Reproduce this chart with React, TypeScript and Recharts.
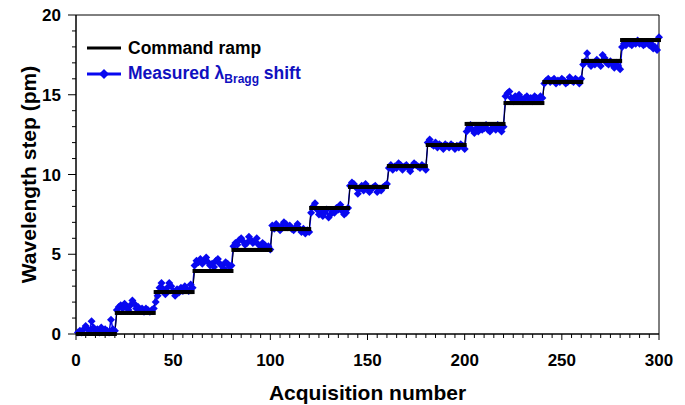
import { ComposedChart, Line, XAxis, YAxis, ReferenceArea } from "recharts";

// command ramp: one level per block of 20 acquisitions
const STEP_LEVELS = [0, 1.32, 2.63, 3.95, 5.27, 6.58, 7.9, 9.22, 10.53, 11.85, 13.17, 14.48, 15.8, 17.12, 18.43];
const BLOCK = 20;

// measured Bragg shift, acquisitions 1..300
const MEASURED = [
  0.1, 0.2, 0.1, 0.3, 0.5, 0.3, 0.2, 0.8, 0.4, 0.2, 0.3, 0.1, 0.4, 0.2, 0.3, 0.2, 0.1, 0.9, 0.3, 0.2,
  1.5, 1.7, 1.8, 1.6, 1.9, 1.7, 1.5, 1.8, 2.1, 1.9, 1.6, 1.7, 1.5, 1.6, 1.4, 1.6, 1.5, 1.4, 1.5, 1.6,
  2.0, 2.4, 2.9, 3.2, 2.8, 2.5, 2.9, 3.2, 3.0, 2.7, 2.4, 2.8, 2.6, 2.9, 2.7, 3.0, 2.8, 2.7, 3.1, 2.9,
  4.3, 4.6, 4.5, 4.7, 4.4, 4.6, 4.8, 4.5, 4.3, 4.4, 4.2, 4.6, 4.7, 4.4, 4.3, 4.1, 4.5, 4.4, 4.2, 4.3,
  5.5, 5.7, 5.6, 5.9, 6.0, 5.8, 5.6, 5.7, 6.1, 5.9, 5.7, 5.8, 6.0, 5.6, 5.5, 5.7, 5.6, 5.4, 5.5, 5.3,
  6.8, 6.6, 6.9, 6.7, 6.5, 6.8, 7.0, 6.9, 6.7, 6.8, 6.6, 6.5, 6.7, 6.9, 6.6, 6.4, 6.6, 6.3, 6.5, 6.4,
  7.6, 8.0, 8.2, 7.8, 7.5, 7.7, 7.4, 7.6, 7.8, 7.3, 7.5, 7.7, 7.6, 7.9, 7.8, 8.1, 7.7, 7.5, 7.6, 7.9,
  9.3, 9.5, 9.4, 9.2, 8.8, 9.1, 9.3, 9.0, 9.4, 9.2, 8.9, 9.1, 9.2, 9.3, 8.9, 9.1, 9.0, 9.2, 9.3, 9.4,
  10.4, 10.6, 10.3, 10.5, 10.4, 10.7, 10.6, 10.3, 10.5, 10.6, 10.4, 10.2, 10.5, 10.7, 10.6, 10.5, 10.4, 10.6, 10.5, 10.3,
  12.0, 12.2, 11.9, 11.8, 12.0, 11.7, 11.9, 11.8, 11.6, 11.9, 11.8, 11.7, 11.9, 11.8, 11.6, 11.8, 11.7, 11.9, 11.8, 11.6,
  12.7, 12.9, 13.1, 12.8, 12.6, 12.9, 12.7, 13.0, 12.8, 12.9, 13.1, 12.8, 12.7, 12.9, 13.0, 12.8, 13.1, 12.9, 12.7, 13.0,
  14.9, 15.1, 15.2, 14.8, 14.6, 14.9, 14.7, 15.0, 14.8, 14.6, 14.8, 14.9, 14.7, 14.8, 14.6, 14.9, 14.8, 14.7, 14.9, 14.8,
  15.7, 15.9, 16.0, 15.8, 15.9, 16.0, 15.7, 15.9, 15.8, 16.0, 15.9, 15.7, 15.8, 16.1, 15.9, 15.8, 16.0, 15.9, 15.7, 16.0,
  16.9, 17.1, 17.6, 17.0, 16.8, 17.0, 16.9, 17.2, 17.0, 16.8, 17.5, 17.3, 17.0, 16.9, 17.1, 16.9, 16.7, 17.0, 16.8, 16.6,
  18.0, 18.2, 18.1, 18.3, 18.2, 18.1, 18.3, 18.2, 18.4, 18.2, 18.3, 18.1, 18.2, 18.3, 18.1, 18.2, 17.9, 18.0, 17.8, 18.6,
];

const X_MAJOR = [0, 50, 100, 150, 200, 250, 300];
const Y_MAJOR = [0, 5, 10, 15, 20];
const X_TICKS = Array.from({ length: 61 }, (_, i) => i * 5);
const Y_TICKS = Array.from({ length: 21 }, (_, i) => i);

const data = MEASURED.map((m, i) => ({
  n: i + 1,
  measured: m,
  command: STEP_LEVELS[Math.floor(i / BLOCK)],
}));

const FONT = "'Liberation Sans', Arial, sans-serif";
const BLUE = "#0808f0";
const TEXT_BLUE = "#1010c0";

function YTick(props: any) {
  const { x, y, payload } = props;
  const major = Y_MAJOR.includes(payload.value);
  return (
    <g>
      <line x1={x - (major ? 8 : 4)} x2={x} y1={y} y2={y} stroke="#000" />
      {major && (
        <text x={x - 15} y={y} dy={6} textAnchor="end" fontFamily={FONT} fontWeight="bold" fontSize={17} fill="#000">
          {payload.value}
        </text>
      )}
    </g>
  );
}

function XTick(props: any) {
  const { x, y, payload } = props;
  const major = X_MAJOR.includes(payload.value);
  return (
    <g>
      <line x1={x} x2={x} y1={y} y2={y + (major ? 6 : 4)} stroke="#000" />
      {major && (
        <text x={x} y={y + 32} textAnchor="middle" fontFamily={FONT} fontWeight="bold" fontSize={17} fill="#000">
          {payload.value}
        </text>
      )}
    </g>
  );
}

function Diamond(props: any) {
  const { cx, cy } = props;
  if (cx == null || cy == null) return null;
  const r = 4;
  return <path d={`M${cx},${cy - r}L${cx + r},${cy}L${cx},${cy + r}L${cx - r},${cy}Z`} fill={BLUE} />;
}

function Dash(props: any) {
  const { cx, cy } = props;
  if (cx == null || cy == null) return null;
  return <rect x={cx - 2} y={cy - 2} width={4} height={4} fill="#000" />;
}

export default function App() {
  return (
    <div style={{ position: "absolute", left: 0, top: 0, width: 685, height: 405, background: "#fff" }}>
      <ComposedChart width={685} height={405} data={data} margin={{ top: 15, right: 26, left: 16, bottom: 31 }}>
        <ReferenceArea x1={0} x2={300} y1={0} y2={20} fill="none" stroke="#000" strokeWidth={1} />
        <XAxis
          dataKey="n"
          type="number"
          domain={[0, 300]}
          ticks={X_TICKS}
          interval={0}
          height={40}
          tickSize={0}
          tickMargin={0}
          tickLine={false}
          axisLine={{ stroke: "#000" }}
          tick={<XTick />}
          label={{
            content: (p: any) => (
              <text
                x={p.viewBox.x + p.viewBox.width / 2}
                y={400}
                textAnchor="middle"
                fontFamily={FONT}
                fontWeight="bold"
                fontSize={21}
                fill="#000"
              >
                Acquisition number
              </text>
            ),
          }}
        />
        <YAxis
          type="number"
          domain={[0, 20]}
          ticks={Y_TICKS}
          interval={0}
          width={60}
          tickSize={0}
          tickMargin={0}
          tickLine={false}
          axisLine={{ stroke: "#000" }}
          tick={<YTick />}
          label={{
            content: (p: any) => {
              const cy = p.viewBox.y + p.viewBox.height / 2;
              return (
                <text
                  x={36}
                  y={cy}
                  transform={`rotate(-90 36 ${cy})`}
                  textAnchor="middle"
                  fontFamily={FONT}
                  fontWeight="bold"
                  fontSize={21}
                  fill="#000"
                >
                  Wavelength step (pm)
                </text>
              );
            },
          }}
        />
        <Line
          dataKey="measured"
          type="linear"
          stroke={BLUE}
          strokeWidth={1.5}
          dot={<Diamond />}
          activeDot={false}
          isAnimationActive={false}
        />
        <Line
          dataKey="command"
          type="linear"
          stroke="#000"
          strokeWidth={1}
          dot={<Dash />}
          activeDot={false}
          isAnimationActive={false}
        />
      </ComposedChart>

      <div style={{ position: "absolute", left: 87, top: 37, fontFamily: FONT, fontWeight: "bold", fontSize: 17.5 }}>
        <div style={{ display: "flex", alignItems: "center", height: 22 }}>
          <svg width={34} height={10} style={{ marginRight: 7 }}>
            <line x1={0} x2={34} y1={5} y2={5} stroke="#000" strokeWidth={3} />
          </svg>
          <span style={{ color: "#000" }}>Command ramp</span>
        </div>
        <div style={{ display: "flex", alignItems: "center", height: 22, marginTop: 4 }}>
          <svg width={34} height={12} style={{ marginRight: 7 }}>
            <line x1={0} x2={34} y1={6} y2={6} stroke={BLUE} strokeWidth={3} />
            <path d="M17,1L22,6L17,11L12,6Z" fill={BLUE} />
          </svg>
          <span style={{ color: TEXT_BLUE }}>
            Measured λ<sub style={{ fontSize: 12, verticalAlign: -4 }}>Bragg</sub> shift
          </span>
        </div>
      </div>
    </div>
  );
}
